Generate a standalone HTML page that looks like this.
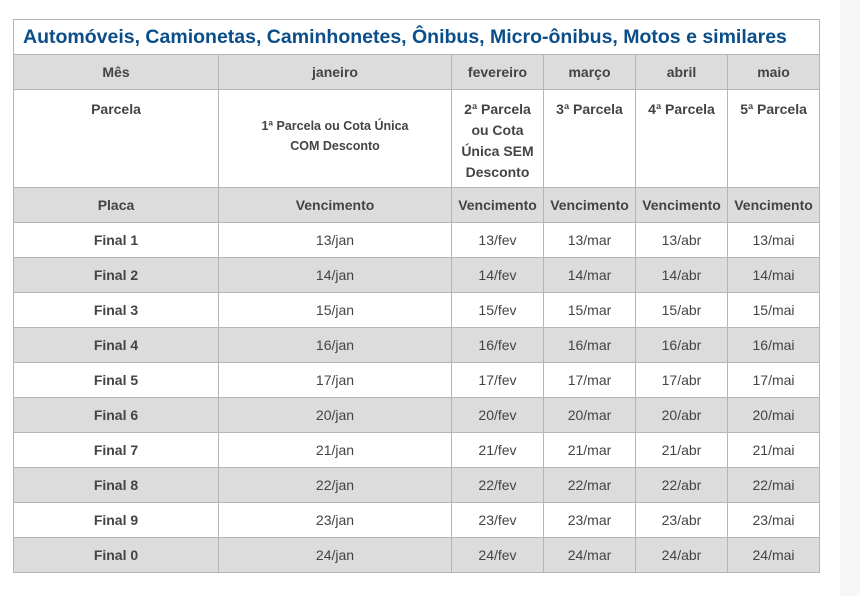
<!DOCTYPE html>
<html><head><meta charset="utf-8"><style>
html,body{margin:0;padding:0;width:860px;height:596px;background:#fff;overflow:hidden;position:relative;font-family:"Liberation Sans",sans-serif;}
.strip{position:absolute;left:840px;top:0;width:20px;height:596px;background:#f7f7f7;}
table{position:absolute;left:13px;top:19px;border-collapse:collapse;table-layout:fixed;width:807px;}
td{border:1px solid #b5b5b5;text-align:center;color:#444;font-size:14px;padding:0;}
.t td{height:34px;text-align:left;padding-left:9px;color:#0b4e8a;font-size:19.5px;font-weight:bold;letter-spacing:0px;}
.g td{background:#dcdcdc;}
.h td{font-weight:bold;height:34px;}
.p td{font-weight:bold;height:88px;vertical-align:top;padding-top:9px;line-height:21px;}
.p td.c{vertical-align:middle;padding-top:0;height:97px;font-size:12.5px;line-height:20px;padding-bottom:0;}
.p td.c span{position:relative;top:-3px;}
.p td.f{padding-left:9px;padding-right:9px;}
.r td{height:34px;}
.r td:first-child{font-weight:bold;}
</style></head><body>
<div class="strip"></div>
<table>
<colgroup><col style="width:205px"><col style="width:233px"><col style="width:92px"><col style="width:92px"><col style="width:92px"><col style="width:92px"></colgroup>
<tr class="t"><td colspan="6">Automóveis, Camionetas, Caminhonetes, Ônibus, Micro-ônibus, Motos e similares</td></tr>
<tr class="h g"><td>Mês</td><td>janeiro</td><td>fevereiro</td><td>março</td><td>abril</td><td>maio</td></tr>
<tr class="p"><td>Parcela</td><td class="c"><span>1ª Parcela ou Cota Única<br>COM Desconto</span></td><td class="f">2ª Parcela<br>ou Cota<br>Única SEM<br>Desconto</td><td>3ª Parcela</td><td>4ª Parcela</td><td>5ª Parcela</td></tr>
<tr class="h g"><td>Placa</td><td>Vencimento</td><td>Vencimento</td><td>Vencimento</td><td>Vencimento</td><td>Vencimento</td></tr>
<tr class="r"><td>Final 1</td><td>13/jan</td><td>13/fev</td><td>13/mar</td><td>13/abr</td><td>13/mai</td></tr>
<tr class="r g"><td>Final 2</td><td>14/jan</td><td>14/fev</td><td>14/mar</td><td>14/abr</td><td>14/mai</td></tr>
<tr class="r"><td>Final 3</td><td>15/jan</td><td>15/fev</td><td>15/mar</td><td>15/abr</td><td>15/mai</td></tr>
<tr class="r g"><td>Final 4</td><td>16/jan</td><td>16/fev</td><td>16/mar</td><td>16/abr</td><td>16/mai</td></tr>
<tr class="r"><td>Final 5</td><td>17/jan</td><td>17/fev</td><td>17/mar</td><td>17/abr</td><td>17/mai</td></tr>
<tr class="r g"><td>Final 6</td><td>20/jan</td><td>20/fev</td><td>20/mar</td><td>20/abr</td><td>20/mai</td></tr>
<tr class="r"><td>Final 7</td><td>21/jan</td><td>21/fev</td><td>21/mar</td><td>21/abr</td><td>21/mai</td></tr>
<tr class="r g"><td>Final 8</td><td>22/jan</td><td>22/fev</td><td>22/mar</td><td>22/abr</td><td>22/mai</td></tr>
<tr class="r"><td>Final 9</td><td>23/jan</td><td>23/fev</td><td>23/mar</td><td>23/abr</td><td>23/mai</td></tr>
<tr class="r g"><td>Final 0</td><td>24/jan</td><td>24/fev</td><td>24/mar</td><td>24/abr</td><td>24/mai</td></tr>
</table>
</body></html>
